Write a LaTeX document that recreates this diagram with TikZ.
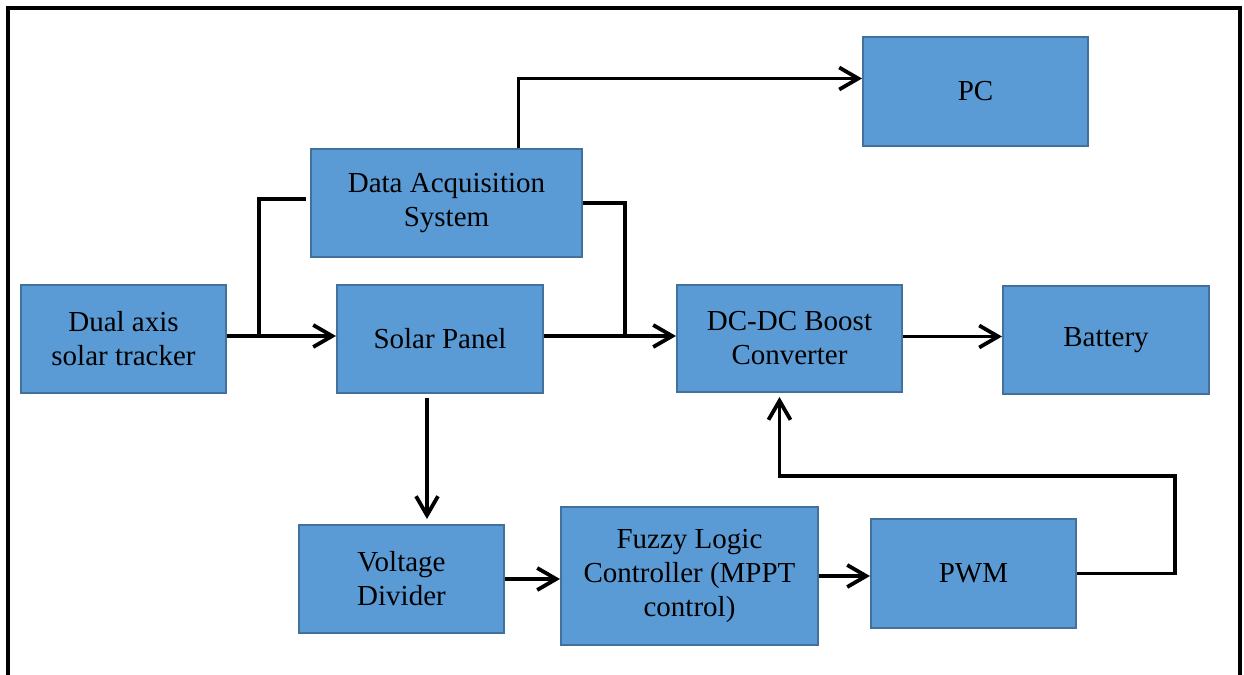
\documentclass[tikz,border=0pt]{standalone}
\usepackage{fontspec}
\setmainfont{Liberation Serif}
\usetikzlibrary{arrows.meta,positioning}
\definecolor{boxblue}{HTML}{5B9BD5}
\definecolor{boxedge}{HTML}{41719C}
\tikzset{
blk/.style = {draw=boxedge, fill=boxblue, line width=1pt, align=center, inner sep=2pt,
  font=\fontsize{14.5}{17}\selectfont},
link/.style = {line width=1.9pt, black},
arr/.style = {link, -{Straight Barb[length=9.5pt,width=11pt,line width=1.9pt]}},
}

\begin{document}
\begin{tikzpicture}[x=0.5pt, y=-0.5pt]
\useasboundingbox (0,0) rectangle (1244,675);
\draw[line width=2pt] (8,675) -- (8,8) -- (1240,8) -- (1240,675);

\node[blk, minimum width=112.5pt, minimum height=54.5pt] (pc) at (975.5,91.5) {PC};
\node[blk, minimum width=135.5pt, minimum height=54pt] (das) at (446.5,203) {Data Acquisition\\System};
\node[blk, minimum width=102.5pt, minimum height=54pt] (dual) at (123.5,339) {Dual axis\\solar tracker};
\node[blk, minimum width=103pt, minimum height=54pt] (solar) at (440,339) {Solar Panel};
\node[blk, minimum width=112.5pt, minimum height=53.5pt] (dcdc) at (789.5,338.5) {DC-DC Boost\\Converter};
\node[blk, minimum width=103pt, minimum height=54pt] (batt) at (1106,340) {Battery};
\node[blk, minimum width=102.5pt, minimum height=54pt] (vdiv) at (401.5,579) {Voltage\\Divider};
\node[blk, minimum width=128.5pt, minimum height=69pt] (flc) at (689.5,576) {Fuzzy Logic\\Controller (MPPT\\control)};
\node[blk, minimum width=102.5pt, minimum height=54.5pt] (pwm) at (973.5,573.5) {PWM};

\coordinate (tap1) at (259,336);
\coordinate (tap2) at (625,336);
\coordinate (fb) at (1175,476);

\draw[arr] ([yshift=1.5pt]dual.east) -- ([yshift=1.5pt]solar.west);
\draw[link] (tap1) |- ([xshift=-2pt,yshift=2pt]das.west);
\draw[arr] ([yshift=1.5pt]solar.east) -- ([yshift=1.5pt]dcdc.west |- solar);
\draw[link] (das.east) -| (tap2);
\draw[arr] ([xshift=36pt]das.north) |- ([yshift=6.5pt]pc.west);
\draw[arr] ([xshift=-6.5pt,yshift=-2pt]solar.south) -- ([xshift=-6.5pt,yshift=2.5pt]solar.south |- vdiv.north);
\draw[arr] (vdiv.east) -- (vdiv.east -| flc.west);
\draw[arr] (flc.east) -- (flc.east -| pwm.west);
\draw[arr, shorten >=2pt] (pwm.east) -| (fb) -| ([xshift=-5pt]dcdc.south);
\draw[arr] ([yshift=1pt]dcdc.east) -- ([yshift=1pt]batt.west |- dcdc);
\end{tikzpicture}
\end{document}
